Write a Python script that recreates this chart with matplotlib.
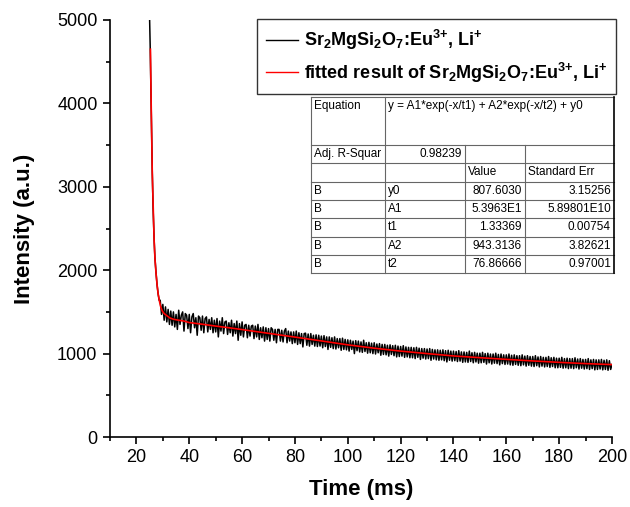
import numpy as np
import matplotlib
matplotlib.use("Agg")
import matplotlib.pyplot as plt
from matplotlib.lines import Line2D
from matplotlib.ticker import MultipleLocator

plt.rcParams['font.family'] = ['Liberation Sans', 'DejaVu Sans']
plt.rcParams['mathtext.fontset'] = 'custom'
plt.rcParams['mathtext.rm'] = 'Liberation Sans:bold'
plt.rcParams['mathtext.bf'] = 'Liberation Sans:bold'
plt.rcParams['mathtext.it'] = 'Liberation Sans:bold'
plt.rcParams['mathtext.default'] = 'bf'

# ---------------- data ----------------
# early steep part of measured decay (ms, a.u.)
early_time = [25.0, 25.2, 25.4, 25.6, 25.8, 26.0, 26.3, 26.7, 27.0, 27.4, 27.8, 28.2, 28.6]
early_intensity = [5000, 4700, 4300, 3950, 3550, 3180, 2750, 2370, 2150, 1980, 1830, 1720, 1640]

# uniformly sampled tail (0.5 ms steps, 29 .. 200 ms)
tail_time = np.arange(29.0, 200.01, 0.5)
tail_intensity = [
    1640, 1470, 1590, 1400, 1560, 1380, 1530, 1350, 1510, 1340,
    1500, 1320, 1470, 1290, 1520, 1350, 1460, 1500, 1270, 1480,
    1460, 1300, 1470, 1250, 1440, 1480, 1310, 1430, 1220, 1450,
    1430, 1280, 1450, 1250, 1420, 1440, 1260, 1410, 1290, 1430,
    1250, 1400, 1260, 1420, 1200, 1390, 1270, 1430, 1240, 1380,
    1390, 1230, 1370, 1250, 1400, 1210, 1360, 1240, 1390, 1160,
    1360, 1220, 1380, 1200, 1340, 1350, 1190, 1340, 1210, 1330,
    1340, 1180, 1330, 1200, 1350, 1170, 1310, 1190, 1320, 1150,
    1310, 1170, 1300, 1150, 1310, 1290, 1160, 1290, 1130, 1290,
    1290, 1150, 1280, 1140, 1270, 1300, 1130, 1270, 1150, 1260,
    1120, 1260, 1130, 1270, 1110, 1250, 1120, 1240, 1080, 1240,
    1245, 1100, 1235, 1090, 1240, 1110, 1220, 1090, 1225, 1085,
    1220, 1090, 1210, 1070, 1215, 1085, 1200, 1050, 1200, 1075,
    1190, 1060, 1200, 1055, 1180, 1070, 1180, 1040, 1185, 1050,
    1170, 1045, 1165, 1030, 1160, 1050, 1150, 1000, 1155, 1035,
    1150, 1020, 1140, 1015, 1160, 1025, 1130, 1005, 1135, 1010,
    1125, 1000, 1130, 995, 1115, 1010, 1120, 980, 1110, 990,
    1110, 985, 1100, 970, 1105, 990, 1095, 975, 1100, 960,
    1090, 965, 1085, 970, 1095, 955, 1080, 960, 1075, 950,
    1075, 950, 1070, 940, 1075, 955, 1065, 930, 1060, 945,
    1060, 935, 1055, 940, 1060, 920, 1050, 935, 1045, 925,
    1045, 920, 1040, 925, 1045, 915, 1035, 900, 1040, 920,
    1030, 910, 1030, 915, 1025, 905, 1035, 910, 1020, 895,
    1020, 900, 1015, 895, 1030, 905, 1010, 890, 1015, 900,
    1005, 885, 1005, 890, 1015, 895, 1000, 875, 1005, 890,
    995, 875, 995, 885, 1005, 880, 990, 865, 995, 880,
    985, 870, 985, 875, 995, 865, 980, 860, 985, 870,
    975, 860, 975, 855, 985, 865, 970, 850, 975, 860,
    965, 850, 965, 845, 975, 855, 960, 840, 965, 850,
    955, 840, 955, 845, 965, 835, 950, 845, 955, 830,
    945, 830, 945, 835, 955, 825, 940, 830, 945, 820,
    940, 825, 940, 820, 950, 830, 935, 815, 940, 825,
    930, 815, 930, 820, 940, 810, 925, 820, 930, 805,
    925, 810, 925, 815, 930, 805, 920, 810, 925, 800,
    915, 810, 870,
]

# fitted curve
fit_time = [25.3, 25.6, 26.0, 26.4, 26.7, 27.0, 27.4, 27.8, 28.2, 28.7, 29.2, 29.8,
            30.5, 31.5, 32.7, 34, 36, 38, 40, 45, 50, 55, 60, 70, 80, 90, 100,
            110, 120, 130, 140, 150, 160, 170, 180, 190, 200]
fit_intensity = [4650, 3960, 3165, 2700, 2360, 2150, 1970, 1830, 1720, 1630, 1560, 1510,
                 1480, 1455, 1427, 1412, 1400, 1390, 1372, 1352, 1330, 1310, 1288, 1243,
                 1198, 1152, 1105, 1065, 1030, 1000, 972, 951, 931, 912, 895, 880, 868]

legend_labels = [r'Sr$_2$MgSi$_2$O$_7$:Eu$^{3{+}}$, Li$^{{+}}$',
                 r'fitted result of Sr$_2$MgSi$_2$O$_7$:Eu$^{3{+}}$, Li$^{{+}}$']

table_equation = "y = A1*exp(-x/t1) + A2*exp(-x/t2) + y0"
table_rows = [
    ["Adj. R-Squar", "0.98239", "", ""],
    ["", "", "Value", "Standard Err"],
    ["B", "y0", "807.6030", "3.15256"],
    ["B", "A1", "5.3963E1", "5.89801E10"],
    ["B", "t1", "1.33369", "0.00754"],
    ["B", "A2", "943.3136", "3.82621"],
    ["B", "t2", "76.86666", "0.97001"],
]

# ---------------- figure ----------------
W, H = 630, 507
fig = plt.figure(figsize=(W / 100, H / 100), dpi=100)
L, R, T, B = 110, 612, 20, 437
ax = fig.add_axes([L / W, 1 - B / H, (R - L) / W, (B - T) / H])

meas_t = list(early_time) + list(tail_time)
meas_y = list(early_intensity) + list(tail_intensity)
ax.plot(meas_t, meas_y, color='black', lw=1.1, label=legend_labels[0], zorder=2)
ax.plot(fit_time, fit_intensity, color='red', lw=1.2, label=legend_labels[1], zorder=3)

ax.set_xlim(10, 200)
ax.set_ylim(0, 5000)
ax.xaxis.set_major_locator(MultipleLocator(20))
ax.xaxis.set_minor_locator(MultipleLocator(10))
ax.yaxis.set_major_locator(MultipleLocator(1000))
ax.yaxis.set_minor_locator(MultipleLocator(500))
ax.set_xticks(np.arange(20, 201, 20))
for s in ['top', 'right']:
    ax.spines[s].set_visible(False)
for s in ['left', 'bottom']:
    ax.spines[s].set_linewidth(1.2)
ax.tick_params(which='major', direction='out', length=5, width=1.2, labelsize=13, pad=4)
ax.tick_params(which='minor', direction='out', length=3, width=1.2)
ax.set_xlabel('Time (ms)', fontsize=16, fontweight='bold', labelpad=9)
ax.set_ylabel('Intensity (a.u.)', fontsize=16, fontweight='bold', labelpad=16)

leg = ax.legend(loc='upper right', bbox_to_anchor=(1.008, 1.002), borderaxespad=0,
                prop={'weight': 'bold', 'size': 13}, frameon=True, fancybox=False,
                handlelength=1.8, handletextpad=0.3, labelspacing=0.45,
                borderpad=0.5)
leg.get_frame().set_edgecolor('black')
leg.get_frame().set_linewidth(1.0)
for ln in leg.get_lines():
    ln.set_linewidth(1.0)

# ---------------- fit-result table ----------------
def fx(px):
    return px / W

def fy(py):
    return 1 - py / H

cols = [311, 385, 465, 525, 614]
row_tops = [97, 145] + [145 + 18.3 * (i + 1) for i in range(7)]
grid_c = '#666666'

fig.patches.append(plt.Rectangle((fx(cols[0]), fy(row_tops[-1])),
                                 fx(cols[-1]) - fx(cols[0]), fy(row_tops[0]) - fy(row_tops[-1]),
                                 transform=fig.transFigure, facecolor='white',
                                 edgecolor='none', zorder=4))

def hline(y, x0, x1, lw=0.8, c=grid_c):
    fig.add_artist(Line2D([fx(x0), fx(x1)], [fy(y), fy(y)], color=c, lw=lw, zorder=5))

def vline(x, y0, y1, lw=0.8, c=grid_c):
    fig.add_artist(Line2D([fx(x), fx(x)], [fy(y0), fy(y1)], color=c, lw=lw, zorder=5))

for y in row_tops:
    hline(y, cols[0], cols[-1])
vline(cols[0], row_tops[0], row_tops[-1])
vline(cols[1], row_tops[0], row_tops[-1])
vline(cols[2], row_tops[1], row_tops[-1])
vline(cols[3], row_tops[1], row_tops[-1])
vline(cols[4], row_tops[0], row_tops[-1], lw=1.2, c='black')

fs = 8.5
fig.text(fx(cols[0] + 3), fy(row_tops[0] + 9), "Equation", fontsize=fs, va='center', ha='left', zorder=6)
fig.text(fx(cols[1] + 3), fy(row_tops[0] + 9), table_equation, fontsize=fs, va='center', ha='left', zorder=6)

aligns = [['l', 'r', 'r', 'r'],
          ['l', 'l', 'l', 'l'],
          ['l', 'l', 'r', 'r'],
          ['l', 'l', 'r', 'r'],
          ['l', 'l', 'r', 'r'],
          ['l', 'l', 'r', 'r'],
          ['l', 'l', 'r', 'r']]
for i, row in enumerate(table_rows):
    yc = (row_tops[i + 1] + row_tops[i + 2]) / 2
    for j, txt in enumerate(row):
        if not txt:
            continue
        if aligns[i][j] == 'l':
            fig.text(fx(cols[j] + 3), fy(yc), txt, fontsize=fs, va='center', ha='left', zorder=6)
        else:
            fig.text(fx(cols[j + 1] - 3), fy(yc), txt, fontsize=fs, va='center', ha='right', zorder=6)

fig.savefig('out.png', dpi=100)
